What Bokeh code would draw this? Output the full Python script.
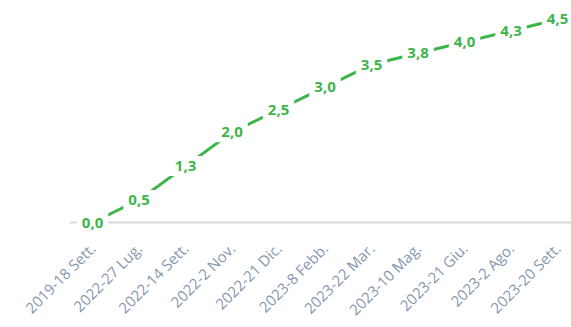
from decimal import Decimal, ROUND_HALF_UP
from math import pi

from bokeh.plotting import figure
from bokeh.models import ColumnDataSource, Range1d, Span
from bokeh.core.properties import value
from bokeh.embed import file_html
from bokeh.resources import INLINE

categories = ["2019-18 Sett.", "2022-27 Lug.", "2022-14 Sett.", "2022-2 Nov.",
              "2022-21 Dic.", "2023-8 Febb.", "2023-22 Mar.", "2023-10 Mag.",
              "2023-21 Giu.", "2023-2 Ago.", "2023-20 Sett."]
values = [0.0, 0.5, 1.25, 2.0, 2.5, 3.0, 3.5, 3.75, 4.0, 4.25, 4.5]


def fmt(v):
    return str(Decimal(str(v)).quantize(Decimal("0.1"), ROUND_HALF_UP)).replace(".", ",")


xs = list(range(len(categories)))
source = ColumnDataSource(dict(x=xs, y=values, label=[fmt(v) for v in values]))

GREEN = "#3DB54A"
FONT = "Open Sans"

p = figure(frame_width=502, frame_height=236, output_backend="svg",
           toolbar_location=None,
           x_range=Range1d(-0.495, 10.30), y_range=Range1d(-0.31, 4.92),
           min_border_left=69, min_border_right=0, min_border_top=0,
           min_border_bottom=0)
p.outline_line_color = None
p.grid.visible = False
p.yaxis.visible = False
p.background_fill_color = "white"
p.border_fill_color = "white"

baseline = Span(location=0, dimension="width", line_color="#D9D9D9",
                line_width=2, level="underlay")
p.add_layout(baseline)

p.line("x", "y", source=source, line_color=GREEN, line_width=3)

p.text("x", "y", text="label", source=source,
       text_align="center", text_baseline="middle",
       text_color=GREEN, text_font=value(FONT), text_font_style="bold",
       text_font_size="15px",
       background_fill_color="white", padding=5)

ax = p.xaxis[0]
ax.ticker = xs
ax.major_label_overrides = {i: c for i, c in enumerate(categories)}
ax.major_label_orientation = pi / 4
ax.major_tick_line_color = None
ax.minor_tick_line_color = None
ax.axis_line_color = None
ax.major_label_text_color = "#8497B0"
ax.major_label_text_font = FONT
ax.major_label_text_font_size = "15px"
ax.major_label_standoff = 3

open("out.html", "w").write(file_html(p, INLINE))
